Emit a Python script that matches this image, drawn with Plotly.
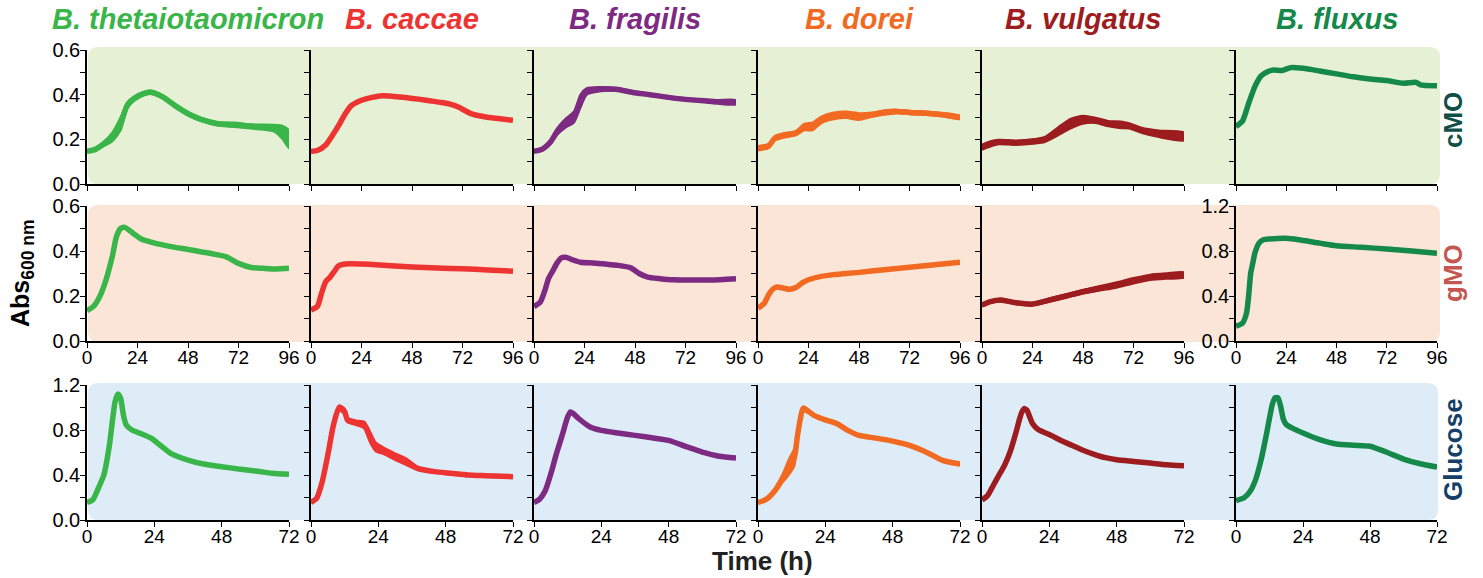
import plotly.graph_objects as go

W, H = 1483, 578

SPECIES = ["B. thetaiotaomicron", "B. caccae", "B. fragilis", "B. dorei", "B. vulgatus", "B. fluxus"]
COLORS = ["#3AB54A", "#EE3432", "#7D2A83", "#F26A22", "#9D1C20", "#15894A"]
CONDITIONS = ["cMO", "gMO", "Glucose"]
COND_COLORS = ["#0F4F46", "#C4574F", "#153F66"]
BG_COLORS = ["#E5F0D4", "#FAE5D6", "#DEECF7"]
X_TICKS_LONG = [0, 24, 48, 72, 96]
X_TICKS_SHORT = [0, 24, 48, 72]

# ---------- cMO ----------
T_THETA_CMO = [0, 4, 8, 12, 16, 19, 22, 27, 31, 36, 42, 49, 54, 62, 70, 79, 89, 93, 96]
V_THETA_CMO = [0.146, 0.155, 0.18, 0.21, 0.27, 0.35, 0.38, 0.405, 0.41, 0.39, 0.35, 0.31, 0.29, 0.27, 0.265, 0.257, 0.25, 0.23, 0.20]
SD_THETA_CMO = [0.005, 0.005, 0.01, 0.02, 0.03, 0.015, 0.01, 0.008, 0.008, 0.008, 0.008, 0.008, 0.008, 0.008, 0.01, 0.01, 0.015, 0.03, 0.04]

T_CACCAE_CMO = [0, 3, 7, 10, 13, 16, 19, 24, 29, 34, 42, 51, 57, 62, 66, 70, 76, 83, 89, 96]
V_CACCAE_CMO = [0.146, 0.15, 0.175, 0.215, 0.26, 0.31, 0.35, 0.375, 0.388, 0.395, 0.39, 0.38, 0.372, 0.365, 0.358, 0.345, 0.315, 0.3, 0.293, 0.285]

T_FRAGILIS_CMO = [0, 4, 8, 11, 15, 19, 22, 25, 31, 39, 47, 55, 63, 71, 79, 87, 96]
V_FRAGILIS_CMO = [0.146, 0.156, 0.19, 0.235, 0.272, 0.3, 0.37, 0.414, 0.424, 0.424, 0.41, 0.40, 0.389, 0.38, 0.374, 0.368, 0.366]
SD_FRAGILIS_CMO = [0.004, 0.005, 0.01, 0.015, 0.02, 0.025, 0.03, 0.015, 0.01, 0.006, 0.005, 0.005, 0.005, 0.005, 0.005, 0.008, 0.01]

T_DOREI_CMO = [0, 5, 8, 12, 18, 22, 26, 30, 36, 42, 48, 54, 60, 66, 72, 80, 88, 96]
V_DOREI_CMO = [0.16, 0.17, 0.205, 0.217, 0.228, 0.255, 0.258, 0.287, 0.305, 0.31, 0.302, 0.31, 0.32, 0.325, 0.32, 0.317, 0.31, 0.298]
SD_DOREI_CMO = [0.01, 0.01, 0.01, 0.01, 0.01, 0.015, 0.018, 0.015, 0.015, 0.015, 0.015, 0.01, 0.01, 0.008, 0.008, 0.008, 0.008, 0.008]

T_VULGATUS_CMO = [0, 4, 8, 16, 24, 30, 36, 42, 48, 54, 60, 66, 70, 76, 84, 96]
V_VULGATUS_CMO = [0.165, 0.18, 0.188, 0.185, 0.19, 0.2, 0.235, 0.27, 0.288, 0.285, 0.27, 0.265, 0.26, 0.24, 0.225, 0.213]
SD_VULGATUS_CMO = [0.012, 0.012, 0.01, 0.01, 0.01, 0.012, 0.018, 0.022, 0.018, 0.012, 0.012, 0.015, 0.012, 0.012, 0.015, 0.018]

T_FLUXUS_CMO = [0, 3, 6, 9, 12, 15, 18, 22, 26, 32, 40, 48, 56, 64, 72, 80, 86, 88, 96]
V_FLUXUS_CMO = [0.258, 0.28, 0.36, 0.436, 0.484, 0.503, 0.51, 0.508, 0.521, 0.518, 0.506, 0.493, 0.48, 0.47, 0.463, 0.451, 0.455, 0.444, 0.44]

# ---------- gMO ----------
T_THETA_GMO = [0, 3, 6, 9, 12, 14, 16, 18, 22, 26, 30, 36, 42, 48, 54, 60, 66, 72, 78, 84, 90, 96]
V_THETA_GMO = [0.135, 0.153, 0.197, 0.271, 0.375, 0.464, 0.5, 0.505, 0.478, 0.452, 0.441, 0.427, 0.416, 0.407, 0.397, 0.387, 0.375, 0.345, 0.327, 0.323, 0.32, 0.323]

T_CACCAE_GMO = [0, 3, 5, 7, 9, 11, 13, 16, 24, 36, 48, 60, 72, 84, 96]
V_CACCAE_GMO = [0.138, 0.153, 0.212, 0.264, 0.283, 0.308, 0.333, 0.342, 0.342, 0.336, 0.329, 0.324, 0.321, 0.316, 0.31]

T_FRAGILIS_GMO = [0, 3, 5, 7, 9, 11, 13, 15, 18, 22, 28, 34, 40, 46, 50, 54, 60, 66, 72, 84, 96]
V_FRAGILIS_GMO = [0.153, 0.173, 0.22, 0.28, 0.313, 0.347, 0.369, 0.372, 0.362, 0.35, 0.347, 0.342, 0.336, 0.325, 0.30, 0.284, 0.277, 0.272, 0.271, 0.271, 0.277]

T_DOREI_GMO = [0, 3, 5, 7, 9, 12, 15, 18, 21, 24, 30, 36, 48, 60, 72, 84, 96]
V_DOREI_GMO = [0.146, 0.168, 0.205, 0.23, 0.24, 0.235, 0.23, 0.238, 0.258, 0.272, 0.287, 0.295, 0.305, 0.317, 0.328, 0.339, 0.35]

T_VULGATUS_GMO = [0, 4, 9, 16, 24, 32, 40, 48, 56, 64, 72, 80, 88, 96]
V_VULGATUS_GMO = [0.16, 0.175, 0.182, 0.17, 0.164, 0.182, 0.2, 0.219, 0.234, 0.249, 0.268, 0.283, 0.289, 0.293]
SD_VULGATUS_GMO = [0.006, 0.006, 0.006, 0.006, 0.006, 0.008, 0.008, 0.008, 0.01, 0.012, 0.012, 0.012, 0.012, 0.012]

T_FLUXUS_GMO = [0, 3, 5, 6, 7, 8, 9, 11, 13, 16, 24, 30, 40, 48, 60, 72, 84, 96]
V_FLUXUS_GMO = [0.133, 0.157, 0.246, 0.394, 0.6, 0.69, 0.78, 0.87, 0.90, 0.907, 0.913, 0.90, 0.87, 0.847, 0.833, 0.818, 0.80, 0.78]

# ---------- Glucose ----------
T_THETA_GLC = [0, 2, 4, 6, 8, 9, 10, 11, 12, 13, 14, 16, 20, 23, 26, 30, 36, 42, 48, 54, 60, 66, 72]
V_THETA_GLC = [0.157, 0.178, 0.28, 0.4, 0.667, 0.87, 1.05, 1.12, 1.08, 0.93, 0.844, 0.80, 0.76, 0.726, 0.667, 0.59, 0.533, 0.495, 0.474, 0.453, 0.436, 0.415, 0.406]

T_CACCAE_GLC = [0, 2, 4, 6, 8, 10, 12, 13, 16, 19, 21, 23, 26, 30, 34, 38, 44, 50, 56, 62, 72]
V_CACCAE_GLC = [0.157, 0.193, 0.34, 0.578, 0.844, 0.999, 0.963, 0.889, 0.865, 0.844, 0.74, 0.652, 0.613, 0.563, 0.518, 0.459, 0.43, 0.415, 0.40, 0.394, 0.385]
SD_CACCAE_GLC = [0.005, 0.01, 0.02, 0.03, 0.03, 0.02, 0.03, 0.02, 0.02, 0.03, 0.05, 0.04, 0.03, 0.03, 0.03, 0.015, 0.01, 0.01, 0.008, 0.008, 0.008]

T_FRAGILIS_GLC = [0, 2, 4, 6, 8, 10, 12, 13, 14, 16, 20, 24, 30, 36, 42, 48, 54, 60, 66, 72]
V_FRAGILIS_GLC = [0.155, 0.185, 0.26, 0.41, 0.59, 0.75, 0.916, 0.96, 0.946, 0.90, 0.827, 0.797, 0.773, 0.752, 0.731, 0.707, 0.654, 0.603, 0.567, 0.552]

T_DOREI_GLC = [0, 3, 6, 9, 11, 13, 14, 15, 16, 17, 20, 24, 28, 32, 36, 42, 48, 54, 60, 66, 72]
V_DOREI_GLC = [0.155, 0.185, 0.26, 0.38, 0.47, 0.56, 0.737, 0.887, 0.99, 0.982, 0.93, 0.89, 0.857, 0.797, 0.752, 0.728, 0.701, 0.663, 0.603, 0.528, 0.498]
SD_DOREI_GLC = [0.005, 0.01, 0.02, 0.04, 0.07, 0.08, 0.05, 0.03, 0.02, 0.02, 0.01, 0.01, 0.01, 0.01, 0.01, 0.01, 0.01, 0.01, 0.01, 0.01, 0.01]

T_VULGATUS_GLC = [0, 2, 4, 6, 8, 10, 12, 14, 15, 16, 17, 18, 20, 24, 28, 32, 36, 40, 44, 48, 54, 60, 66, 72]
V_VULGATUS_GLC = [0.179, 0.217, 0.307, 0.396, 0.485, 0.604, 0.768, 0.947, 0.99, 0.977, 0.917, 0.858, 0.804, 0.76, 0.709, 0.664, 0.62, 0.584, 0.554, 0.536, 0.521, 0.506, 0.491, 0.482]

T_FLUXUS_GLC = [0, 3, 5, 7, 9, 11, 13, 14, 15, 16, 17, 18, 20, 24, 30, 36, 42, 48, 54, 60, 66, 72]
V_FLUXUS_GLC = [0.173, 0.2, 0.253, 0.357, 0.536, 0.774, 1.027, 1.087, 1.087, 1.01, 0.893, 0.849, 0.819, 0.774, 0.715, 0.676, 0.664, 0.655, 0.602, 0.542, 0.5, 0.47]

SERIES = [
    [(T_THETA_CMO, V_THETA_CMO, SD_THETA_CMO), (T_CACCAE_CMO, V_CACCAE_CMO, None),
     (T_FRAGILIS_CMO, V_FRAGILIS_CMO, SD_FRAGILIS_CMO), (T_DOREI_CMO, V_DOREI_CMO, SD_DOREI_CMO),
     (T_VULGATUS_CMO, V_VULGATUS_CMO, SD_VULGATUS_CMO), (T_FLUXUS_CMO, V_FLUXUS_CMO, None)],
    [(T_THETA_GMO, V_THETA_GMO, None), (T_CACCAE_GMO, V_CACCAE_GMO, None),
     (T_FRAGILIS_GMO, V_FRAGILIS_GMO, None), (T_DOREI_GMO, V_DOREI_GMO, None),
     (T_VULGATUS_GMO, V_VULGATUS_GMO, SD_VULGATUS_GMO), (T_FLUXUS_GMO, V_FLUXUS_GMO, None)],
    [(T_THETA_GLC, V_THETA_GLC, None), (T_CACCAE_GLC, V_CACCAE_GLC, SD_CACCAE_GLC),
     (T_FRAGILIS_GLC, V_FRAGILIS_GLC, None), (T_DOREI_GLC, V_DOREI_GLC, SD_DOREI_GLC),
     (T_VULGATUS_GLC, V_VULGATUS_GLC, None), (T_FLUXUS_GLC, V_FLUXUS_GLC, None)],
]

# ---------- layout geometry (pixels) ----------
COL_PX = [(87, 289), (311, 513), (534, 736), (758, 960), (982, 1184), (1236, 1437)]
ROW_PX = [(50, 184), (206, 341), (385, 520)]
BG_PX = [(88, 47, 1440, 184), (88, 205, 1440, 342), (88, 383, 1438, 520)]

FONT = "Arial, Liberation Sans, Helvetica, sans-serif"


def px(x):
    return x / W


def py(y):
    return 1 - y / H


def rounded_path(x0, y0, x1, y1, r):
    rx, ry = r / W, r / H
    X0, X1 = px(x0), px(x1)
    Y0, Y1 = py(y0), py(y1)
    return (f"M {X0+rx},{Y0} L {X1-rx},{Y0} Q {X1},{Y0} {X1},{Y0-ry} "
            f"L {X1},{Y1+ry} Q {X1},{Y1} {X1-rx},{Y1} "
            f"L {X0+rx},{Y1} Q {X0},{Y1} {X0},{Y1+ry} "
            f"L {X0},{Y0-ry} Q {X0},{Y0} {X0+rx},{Y0} Z")


fig = go.Figure()
layout = {}
for r in range(3):
    for c in range(6):
        k = r * 6 + c + 1
        xs = "" if k == 1 else str(k)
        t, v, sd = SERIES[r][c]
        col = COLORS[c]
        if sd is not None:
            up = [a + b for a, b in zip(v, sd)]
            lo = [a - b for a, b in zip(v, sd)]
            fig.add_trace(go.Scatter(
                x=t + t[::-1], y=up + lo[::-1], fill="toself", mode="lines",
                line=dict(color=col, width=2, shape="spline", smoothing=0.6),
                fillcolor=col, hoverinfo="skip", showlegend=False,
                xaxis="x" + xs, yaxis="y" + xs))
        fig.add_trace(go.Scatter(
            x=t, y=v, mode="lines",
            line=dict(color=col, width=5.5, shape="spline", smoothing=0.6),
            showlegend=False, xaxis="x" + xs, yaxis="y" + xs))

        big = (r == 2) or (r == 1 and c == 5)
        xr = 72 if r == 2 else 96
        layout["xaxis" + xs] = dict(
            domain=[px(COL_PX[c][0]), px(COL_PX[c][1])], anchor="y" + xs,
            range=[0, xr], tickvals=X_TICKS_SHORT if r == 2 else X_TICKS_LONG,
            showticklabels=(r >= 1), ticks="outside", ticklen=5, tickwidth=1.3,
            tickcolor="black", showline=True, linecolor="black", linewidth=1.6,
            showgrid=False, zeroline=False, ticklabelstandoff=-7, automargin=False,
            tickfont=dict(family=FONT, size=19, color="black"))
        layout["yaxis" + xs] = dict(
            domain=[py(ROW_PX[r][1]), py(ROW_PX[r][0])], anchor="x" + xs,
            range=[0, 1.2 if big else 0.6], dtick=0.4 if big else 0.2, tick0=0,
            tickformat=".1f", showticklabels=(c == 0 or (r == 1 and c == 5)),
            ticks="outside", ticklen=5, tickwidth=1.3, tickcolor="black",
            minor=dict(dtick=0.2 if big else 0.1, ticks="outside", ticklen=5,
                       tickwidth=1.3, tickcolor="black", showgrid=False),
            showline=True, linecolor="black", linewidth=1.6,
            showgrid=False, zeroline=False, ticklabelstandoff=-4, automargin=False,
            tickfont=dict(family=FONT, size=20, color="black"))

shapes = []
for r in range(3):
    x0, y0, x1, y1 = BG_PX[r]
    shapes.append(dict(type="path", xref="paper", yref="paper", layer="below",
                       path=rounded_path(x0, y0, x1, y1, 10),
                       fillcolor=BG_COLORS[r], line=dict(width=0)))

annotations = []
for c in range(6):
    cx = (COL_PX[c][0] + COL_PX[c][1]) / 2
    annotations.append(dict(x=px(cx), y=py(19), xref="paper", yref="paper",
                            text="<b><i>%s</i></b>" % SPECIES[c], showarrow=False,
                            font=dict(family=FONT, size=29, color=COLORS[c]),
                            xanchor="center", yanchor="middle"))
ROW_LABEL_Y = [120, 273, 450]
for r in range(3):
    annotations.append(dict(x=px(1453), y=py(ROW_LABEL_Y[r]), xref="paper", yref="paper",
                            text="<b>%s</b>" % CONDITIONS[r], showarrow=False, textangle=-90,
                            font=dict(family=FONT, size=26, color=COND_COLORS[r]),
                            xanchor="center", yanchor="middle"))
annotations.append(dict(x=px(22), y=py(273), xref="paper", yref="paper",
                        text="<b>Abs<sub>600 nm</sub></b>", showarrow=False, textangle=-90,
                        font=dict(family=FONT, size=25, color="black"),
                        xanchor="center", yanchor="middle"))
annotations.append(dict(x=px(762), y=py(561), xref="paper", yref="paper",
                        text="<b>Time (h)</b>", showarrow=False,
                        font=dict(family=FONT, size=26, color="#222222"),
                        xanchor="center", yanchor="middle"))

fig.update_layout(
    width=W, height=H, margin=dict(l=0, r=0, t=0, b=0, autoexpand=False),
    paper_bgcolor="white", plot_bgcolor="rgba(0,0,0,0)",
    shapes=shapes, annotations=annotations, showlegend=False, **layout)

fig.write_html("out.html", config={"displayModeBar": False},
               post_script="document.body.style.margin='0';document.body.style.overflow='hidden';")
